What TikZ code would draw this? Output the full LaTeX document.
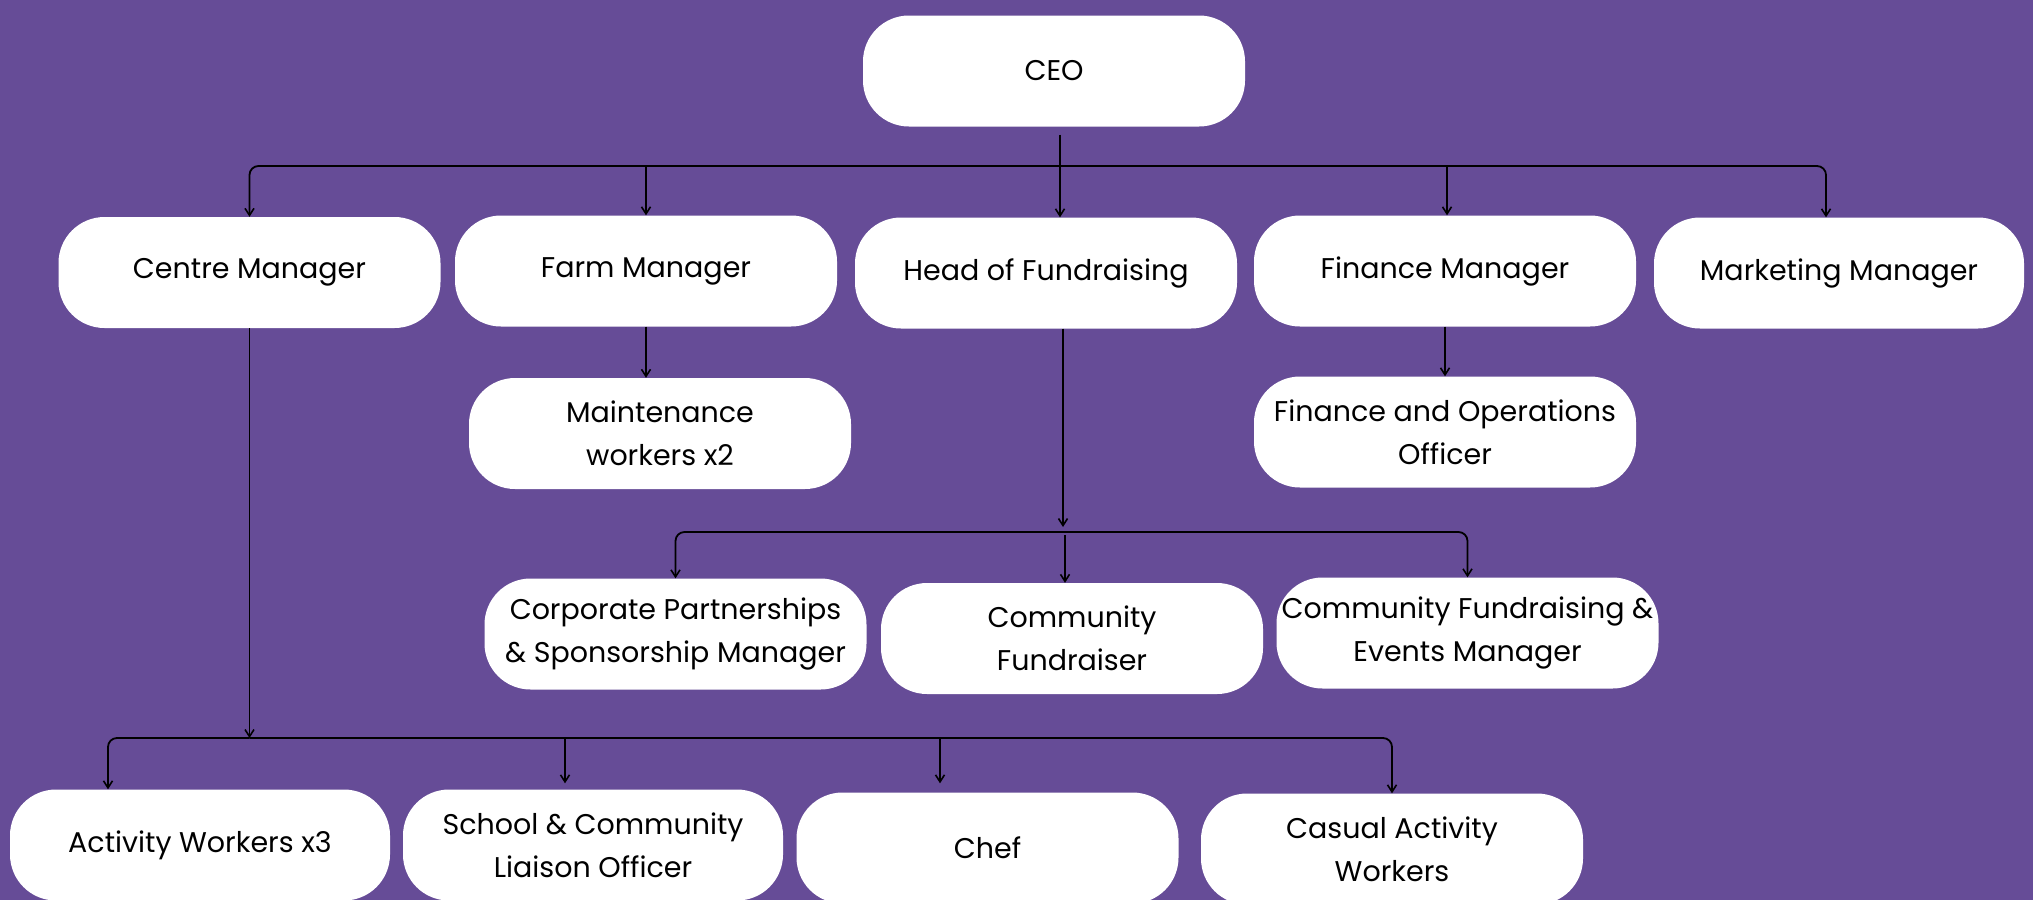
\documentclass[tikz,border=0pt]{standalone}
\usepackage{fontspec}
\setmainfont{Poppins}
\usetikzlibrary{arrows.meta}
\definecolor{bgpurple}{HTML}{664C97}
\tikzset{
  box/.style={fill=white, rounded corners=46pt, minimum width=382pt, minimum height=111pt,
    align=center, inner sep=0pt, font=\fontsize{28.5}{43}\selectfont, text=black},
  conn/.style={draw=black, line width=1.8pt},
  arr/.style={conn, -{Straight Barb[length=7pt,width=9pt,line width=1.6pt]}},
  rc/.style={rounded corners=9pt}
}
\begin{document}
\begin{tikzpicture}[x=1pt,y=-1pt]
\useasboundingbox (0,0) rectangle (2033,900);
\fill[bgpurple] (0,0) rectangle (2033,900);
\clip (0,0) rectangle (2033,900);

\node[box] (ceo) at (1054,71) {CEO};
\node[box] (centre) at (249.5,272.5) {Centre Manager};
\node[box] (farm) at (646,271) {Farm Manager};
\node[box] (head) at (1046,273) {Head of Fundraising};
\node[box] (fin) at (1445,271) {Finance Manager};
\node[box, minimum width=370pt] (mkt) at (1839,273) {Marketing Manager};
\node[box] (maint) at (660,433.5) {Maintenance\\workers x2};
\node[box] (finops) at (1445,432) {Finance and Operations\\Officer};
\node[box] (corp) at (675.5,634) {Corporate Partnerships\\\& Sponsorship Manager};
\node[box] (cfund) at (1072,638.5) {Community\\Fundraiser};
\node[box] (cfem) at (1467.5,633) {Community Fundraising \&\\Events Manager};
\node[box, minimum width=380pt] (act) at (200,845) {Activity Workers x3};
\node[box, minimum width=380pt] (school) at (593,845) {School \& Community\\Liaison Officer};
\node[box] (chef) at (987.5,848) {Chef};
\node[box] (casual) at (1392,849) {Casual Activity\\Workers};

% level 1 bus
\coordinate (b1) at (1060,166);
\draw[arr, rc] (b1) -| (centre.north);
\draw[arr, rc] (b1) -| ([xshift=-13pt]mkt.north);
\draw[arr] (b1 -| farm.north) -- (farm.north);
\draw[arr] ([xshift=2pt]b1 -| fin.north) -- ([xshift=2pt]fin.north);
\draw[arr] ([yshift=-8pt]ceo.south -| b1) -- (b1 |- head.north);

% level 2
\draw[arr] (farm.south) -- (farm.south |- maint.north);
\draw[arr] (fin.south) -- (finops.north);

% fundraising bus
\coordinate (b2) at (1063,532);
\draw[arr] (head.south -| b2) -- ([yshift=5pt]b2);
\draw[arr, rc] (b2) -| (corp.north);
\draw[arr, rc] (b2) -| (cfem.north);
\draw[arr] ([yshift=-3pt, xshift=2pt]b2) -- (cfund.north -| 1065,0);

% centre bus
\coordinate (b3) at (249.5,738);
\draw[arr] (centre.south) -- (b3);
\draw[arr, rc] (b3) -| ([xshift=-92pt]act.north);
\draw[arr, rc] (b3) -| (casual.north);
\draw[arr] (b3 -| 565,0) -- ([yshift=6pt]school.north -| 565,0);
\draw[arr] (b3 -| 940,0) -- ([yshift=9pt]chef.north -| 940,0);
\end{tikzpicture}
\end{document}
